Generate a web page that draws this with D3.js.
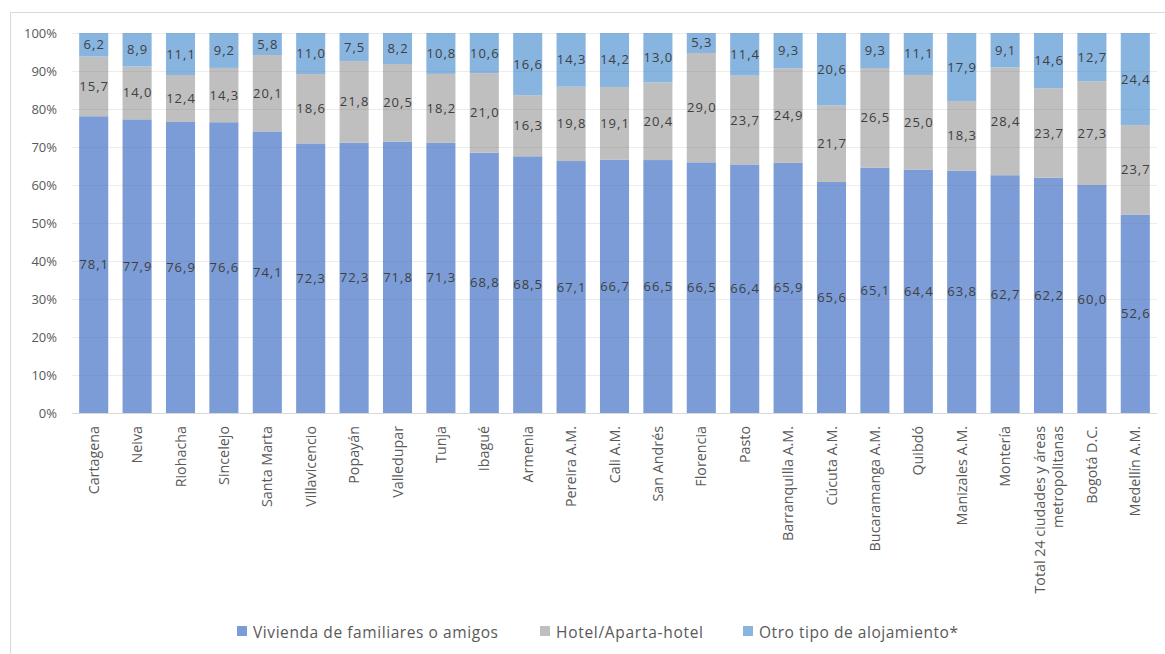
<!DOCTYPE html>
<html><head><meta charset="utf-8">
<script src="https://cdn.jsdelivr.net/npm/d3@7"></script>
<style>body{margin:0;background:#fff}svg{display:block;font-family:"Open Sans",Lato,sans-serif}</style>
</head><body><svg id="c" width="1165" height="654"></svg>
<script>
const categories = ["Cartagena","Neiva","Riohacha","Sincelejo","Santa Marta","Villavicencio","Popayán","Valledupar","Tunja","Ibagué","Armenia","Pereira A.M.","Cali A.M.","San Andrés","Florencia","Pasto","Barranquilla A.M.","Cúcuta A.M.","Bucaramanga A.M.","Quibdó","Manizales A.M.","Montería","Total 24 ciudades y áreas|metropolitanas","Bogotá D.C.","Medellín A.M."];
const vivienda = [78.1,77.9,76.9,76.6,74.1,72.3,72.3,71.8,71.3,68.8,68.5,67.1,66.7,66.5,66.5,66.4,65.9,65.6,65.1,64.4,63.8,62.7,62.2,60.0,52.6];
const hotel = [15.7,14.0,12.4,14.3,20.1,18.6,21.8,20.5,18.2,21.0,16.3,19.8,19.1,20.4,29.0,23.7,24.9,21.7,26.5,25.0,18.3,28.4,23.7,27.3,23.7];
const otro = [6.2,8.9,11.1,9.2,5.8,11.0,7.5,8.2,10.8,10.6,16.6,14.3,14.2,13.0,5.3,11.4,9.3,20.6,9.3,11.1,17.9,9.1,14.6,12.7,24.4];
const seriesNames = ["Vivienda de familiares o amigos","Hotel/Aparta-hotel","Otro tipo de alojamiento*"];
const yTicks = [0,0.1,0.2,0.3,0.4,0.5,0.6,0.7,0.8,0.9,1];
const colors = ["#7b9cd6","#bfbfbf","#87b5e0"];

const svg = d3.select("#c");
// outer frame
svg.append("path").attr("d","M10.5,660 V12.5 H1170").attr("fill","none").attr("stroke","#d9d9d9").attr("stroke-width",1);

const m = {l:72, r:1157, t:33, b:413};
const rows = categories.map((c,i)=>({cat:c, v:vivienda[i], h:hotel[i], o:otro[i]}));
const keys = ["v","h","o"];
const stack = d3.stack().keys(keys).offset(d3.stackOffsetExpand)(rows);

const x = d3.scaleBand().domain(categories).range([m.l, m.r]).paddingInner(0.33).paddingOuter(0.165);
const y = d3.scaleLinear().domain([0,1]).range([m.b, m.t]);

// y labels
svg.append("g").selectAll("text").data(yTicks).join("text")
  .attr("x",57).attr("y",d=>y(d)+4.5).attr("text-anchor","end")
  .attr("font-size",13).attr("fill","#595959").text(d=>Math.round(d*100)+"%");

// bars
stack.forEach((s,si)=>{
  svg.append("g").selectAll("rect").data(s).join("rect")
    .attr("x",d=>x(d.data.cat)).attr("width",x.bandwidth())
    .attr("y",d=>y(d[1])).attr("height",d=>y(d[0])-y(d[1]))
    .attr("fill",colors[si]);
});
// gridlines over bars (faint)
svg.append("g").selectAll("line").data(yTicks.filter(d=>d>0)).join("line")
  .attr("x1",m.l).attr("x2",m.r).attr("y1",d=>Math.round(y(d))+0.5).attr("y2",d=>Math.round(y(d))+0.5)
  .attr("stroke","#808080").attr("stroke-opacity",0.15);
// axis line
svg.append("line").attr("x1",m.l).attr("x2",m.r).attr("y1",m.b+0.5).attr("y2",m.b+0.5).attr("stroke","#d9d9d9");

// data labels
stack.forEach((s,si)=>{
  const raw = si===0?vivienda:si===1?hotel:otro;
  svg.append("g").selectAll("text").data(s).join("text")
    .attr("x",d=>x(d.data.cat)+x.bandwidth()/2+0.5)
    .attr("y",d=>(y(d[0])+y(d[1]))/2+4.5)
    .attr("text-anchor","middle").attr("font-size",13).attr("letter-spacing",1).attr("fill","#404040")
    .text((d,i)=>raw[i].toFixed(1).replace(".",","));
});

// x labels rotated
const xl = svg.append("g").selectAll("text").data(categories).join("text")
  .attr("transform",d=>`translate(${x(d)+x.bandwidth()/2},426) rotate(-90)`)
  .attr("text-anchor","end").attr("font-size",14.3).attr("fill","#595959");
xl.each(function(d){
  const parts = d.split("|");
  const t = d3.select(this);
  const n = parts.length;
  parts.forEach((p,k)=>{
    t.append("tspan").attr("x",0).attr("dy", k===0 ? ((n===1?5:5-(n-1)*9)) : 18).text(p);
  });
});

// legend
const legX = [237,540,743];
const legW = [245,147,199];
const lg = svg.append("g").selectAll("g").data(seriesNames).join("g")
  .attr("transform",(d,i)=>`translate(${legX[i]},626)`);
lg.append("rect").attr("width",10).attr("height",10).attr("fill",(d,i)=>colors[i]);
lg.append("text").attr("x",16).attr("y",11.5).attr("font-size",15.5).attr("fill","#595959")
  .attr("textLength",(d,i)=>legW[i]).attr("lengthAdjust","spacing").text(d=>d);
</script></body></html>
